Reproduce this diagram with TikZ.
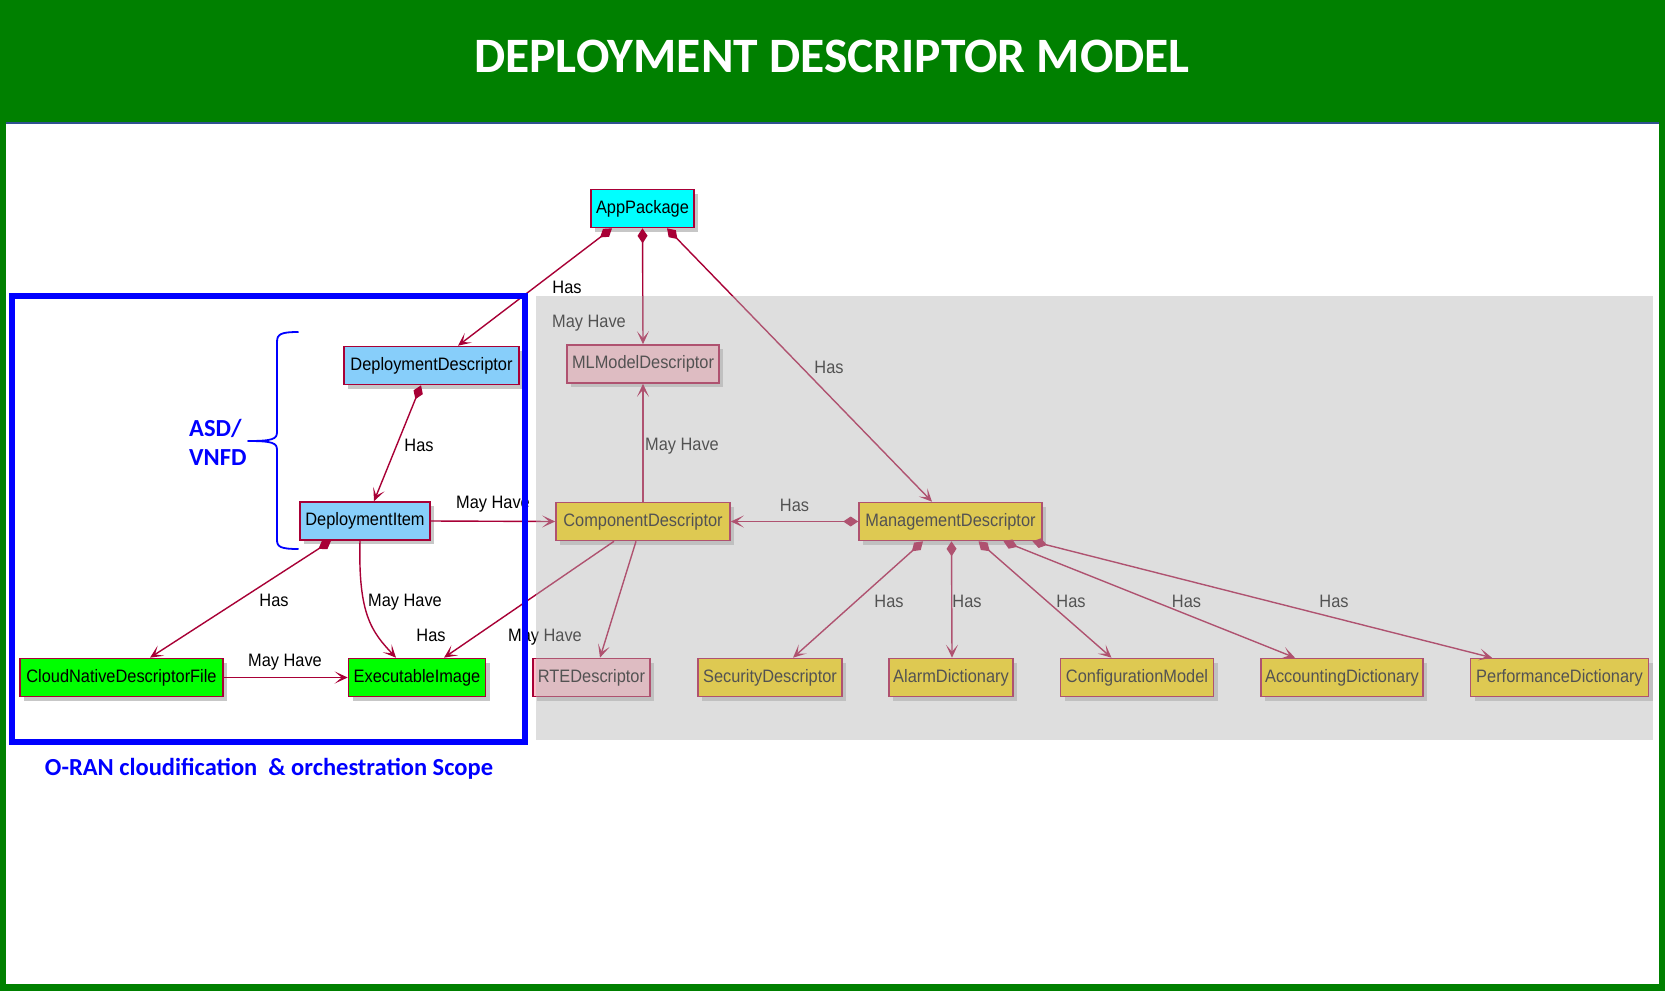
\documentclass[tikz,border=0pt]{standalone}
\usepackage{fontspec}
\newfontfamily\arialf[FakeStretch=0.91]{Liberation Sans}
\newfontfamily\calib{Carlito}
\usetikzlibrary{arrows.meta,shadows}
\definecolor{crim}{HTML}{A80036}
\definecolor{ggreen}{HTML}{008000}
\definecolor{slate}{HTML}{2F528F}
\definecolor{skyb}{HTML}{87CEFA}
\definecolor{limeg}{HTML}{00FF00}
\definecolor{cyanb}{HTML}{00FFFF}
\definecolor{goldy}{HTML}{FFD700}
\definecolor{pinkb}{HTML}{FFC0CB}
\definecolor{ovl}{RGB}{184,184,184}
\definecolor{pureblue}{HTML}{0000FF}
\newcommand\nodefnt{\arialf\fontsize{18}{20}\selectfont}
\tikzset{
  box/.style={draw=crim, line width=1.6pt, minimum height=38pt, inner sep=1pt,
    font=\nodefnt, text=black,
    drop shadow={shadow xshift=4pt,shadow yshift=-4pt,fill=black,opacity=0.22}},
  tipa/.style={-{Stealth[length=13pt,width=12pt,inset=7pt]}},
  conn/.style={draw=crim, line width=1.4pt, tipa},
  comp/.style={draw=crim, line width=1.4pt, {Diamond[length=15pt,width=10pt]}-{Stealth[length=13pt,width=12pt,inset=7pt]}},
  lab/.style={font=\nodefnt, text=black, inner sep=0pt, anchor=base},
  bluelab/.style={font=\calib\bfseries\fontsize{24.5}{29}\selectfont, text=pureblue, inner sep=0pt},
}
\begin{document}
\begin{tikzpicture}[x=1pt,y=-1pt]
\useasboundingbox (0,0) rectangle (1665,991);
% frame
\fill[ggreen] (0,0) rectangle (1665,991);
\fill[white] (6,124) rectangle (1659,984);
\fill[slate] (6,122) rectangle (1659,124.2);
\node[font=\calib\bfseries\fontsize{49.5}{56}\selectfont, text=white, inner sep=0pt] (title) at (832,56) {DEPLOYMENT DESCRIPTOR MODEL};

% nodes
\node[box, fill=cyanb, minimum width=103pt] (app) at (642.5,208.5) {AppPackage};
\node[box, fill=pinkb, minimum width=152pt] (ml) at (643,364) {MLModelDescriptor};
\node[box, fill=skyb, minimum width=175pt] (dd) at (431.5,365.5) {DeploymentDescriptor};
\node[box, fill=skyb, minimum width=130pt] (di) at (365,521) {DeploymentItem};
\node[box, fill=limeg, minimum width=203pt] (cndf) at (121.5,677.5) {CloudNativeDescriptorFile};
\node[box, fill=limeg, minimum width=137pt] (ei) at (417,677.5) {ExecutableImage};
\node[box, fill=goldy, minimum width=174pt] (cd) at (643,521.5) {ComponentDescriptor};
\node[box, fill=goldy, minimum width=183pt] (md) at (950.5,521.5) {ManagementDescriptor};
\node[box, fill=pinkb, minimum width=117pt] (rte) at (591.5,677.5) {RTEDescriptor};
\node[box, fill=goldy, minimum width=144pt] (sd) at (770,677.5) {SecurityDescriptor};
\node[box, fill=goldy, minimum width=124.5pt] (ad) at (951,677.5) {AlarmDictionary};
\node[box, fill=goldy, minimum width=153pt] (cm) at (1137,677.5) {ConfigurationModel};
\node[box, fill=goldy, minimum width=162pt] (acc) at (1342,677.5) {AccountingDictionary};
\node[box, fill=goldy, minimum width=178pt] (pd) at (1559.5,677.5) {PerformanceDictionary};

% connectors
\draw[comp] ([xshift=-30.5pt]app.south) -- ([xshift=26.5pt]dd.north);
\draw[comp] (app.south) -- (ml.north);
\draw[comp] ([xshift=24.5pt]app.south) -- ([xshift=-18.5pt]md.north);
\draw[comp] ([xshift=-10.5pt]dd.south) -- ([xshift=9pt]di.north);
\draw[conn] (di.east) -- (cd.west);
\draw[comp] ([xshift=-34pt]di.south) -- ([xshift=28.5pt]cndf.north);
\draw[conn] ([xshift=-5pt]di.south) .. controls (358,615) and (372,632) .. ([xshift=-21pt]ei.north);
\draw[conn] (cndf.east) -- (ei.west);
\draw[conn] ([xshift=-29pt]cd.south) -- ([xshift=27pt]ei.north);
\draw[conn] ([xshift=-7pt]cd.south) -- ([xshift=8.5pt]rte.north);
\draw[conn] (cd.north) -- (ml.south);
\draw[comp] (md.west) -- (cd.east);
\draw[comp] ([xshift=-27.5pt]md.south) -- ([xshift=23pt]sd.north);
\draw[comp] ([xshift=1pt]md.south) -- ([xshift=1pt]ad.north);
\draw[comp] ([xshift=28pt]md.south) -- ([xshift=-25.5pt]cm.north);
\draw[comp] ([xshift=53pt]md.south) -- ([xshift=-47pt]acc.north);
\draw[comp] ([xshift=82pt]md.south) -- ([xshift=-67.5pt]pd.north);

% labels
\node[lab] (l1) at (567,293) {Has};
\node[lab] (l2) at (589,327) {May Have};
\node[lab] (l3) at (829,373) {Has};
\node[lab] (l4) at (419,451) {Has};
\node[lab] (l5) at (493,508) {May Have};
\node[lab] (l6) at (274,606) {Has};
\node[lab] (l7) at (405,606) {May Have};
\node[lab] (l8) at (431,641) {Has};
\node[lab] (l9) at (285,666) {May Have};
\node[lab] (l10) at (545,641) {May Have};
\node[lab] (l11) at (682,450) {May Have};
\node[lab] (l12) at (794.5,511) {Has};
\node[lab] (l13) at (889,607) {Has};
\node[lab] (l14) at (967,607) {Has};
\node[lab] (l15) at (1071,607) {Has};
\node[lab] (l16) at (1186.5,607) {Has};
\node[lab] (l17) at (1334,607) {Has};

% grey overlay
\fill[ovl, opacity=0.45] (536,296) rectangle (1653,740);

% blue scope box
\draw[pureblue, line width=6pt] (11.5,296) rectangle (524.5,742);
\node[bluelab, anchor=base] (scope) at (269,775) {O-RAN cloudification~ \& orchestration Scope};
\node[bluelab, anchor=base west] (asd) at (189,436) {ASD/};
\node[bluelab, anchor=base west] (vnfd) at (189,465) {VNFD};
\draw[pureblue, line width=1.8pt, line join=round]
  (298.5,332) .. controls (281,332) and (277,334) .. (277,342) -- (277,432)
  .. controls (277,439) and (273,441) .. (248,441)
  .. controls (273,441) and (277,443) .. (277,450) -- (277,540)
  .. controls (277,547) and (281,549) .. (298.5,549);
\end{tikzpicture}
\end{document}
